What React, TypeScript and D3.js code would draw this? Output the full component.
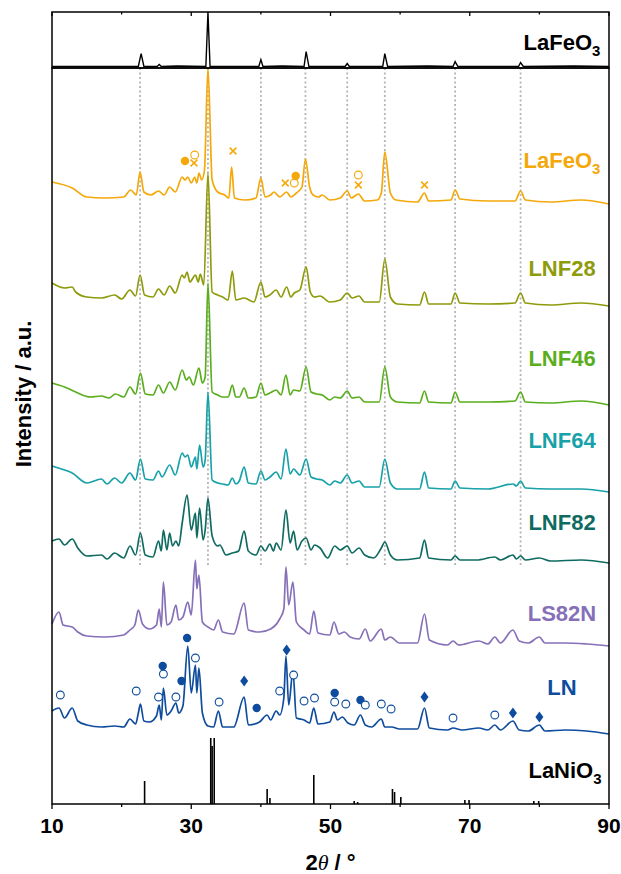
import React from 'react';
import * as d3 from 'd3';

// 2θ / intensity pairs (a.u., relative to each trace's own baseline)
const refLaFeO3: number[][] = [
  [10, 1], [16, 1], [20, 1], [22.4, 1], [22.8, 14], [23.2, 1], [25.1, 1], [25.4, 3], [25.7, 1],
  [28, 1.5], [32.1, 1], [32.4, 56], [32.7, 1], [36, 1], [39.7, 1], [40, 8], [40.3, 1],
  [43, 1.5], [46.2, 1], [46.5, 16], [46.9, 1], [52.1, 1], [52.4, 4], [52.7, 1], [57.5, 1],
  [57.8, 14], [58.2, 1], [64, 1.5], [67.6, 1], [67.9, 6], [68.3, 1], [72, 1], [77, 1],
  [77.3, 5], [77.7, 1], [85, 1.5], [90, 1],
];

const laFeO3: number[][] = [
  [10, 22], [12.9, 16], [15, 7], [17.6, 6], [20.3, 7], [21.3, 14], [22.1, 9], [22.65, 32],
  [23.2, 12], [24.2, 9], [25.3, 13], [26.1, 9], [26.9, 17], [27.7, 12], [28.7, 27], [29.1, 24],
  [29.5, 27], [30.0, 21], [30.5, 27], [30.8, 21], [31.1, 31], [31.5, 24], [31.9, 34], [32.4, 136],
  [33.0, 24], [33.8, 12], [34.8, 9], [35.4, 6], [35.8, 37], [36.2, 6], [37.7, 4], [39.3, 6],
  [40.0, 26], [40.6, 7], [41.4, 9], [41.9, 12], [42.7, 7], [43.7, 12], [44.3, 7], [45.1, 11],
  [45.9, 17], [46.4, 45], [47.0, 17], [47.5, 9], [48.3, 7], [48.8, 9], [49.9, 4], [51.4, 6],
  [52.4, 13], [53.0, 6], [54.0, 10], [54.9, 3], [56.7, 4], [57.3, 11], [57.8, 52], [58.6, 11],
  [59.4, 4], [62.5, 2], [63.5, 11], [64.1, 3], [67.3, 4], [67.9, 14], [68.6, 5], [72.6, 3],
  [76.5, 3], [77.3, 13], [78, 4], [81.6, 2], [86, 4], [90, 0],
];

const lnf28: number[][] = [
  [10, 23], [11.8, 18], [12.9, 19], [13.4, 14], [15, 9], [17.1, 8], [19, 11], [20, 7],
  [21.2, 16], [22, 10], [22.65, 31], [23.3, 11], [24.5, 9], [25.3, 17], [26.1, 11], [26.9, 20],
  [27.7, 13], [28.7, 31], [29, 28], [29.4, 34], [29.8, 24], [30.6, 31], [31, 24], [31.3, 32],
  [31.8, 21], [32.4, 133], [33, 14], [33.8, 11], [34.5, 9], [35.3, 6], [35.9, 35], [36.4, 6],
  [37.6, 8], [39, 4], [40, 24], [40.6, 9], [41.3, 11], [42.2, 16], [42.9, 9], [43.7, 19],
  [44.3, 9], [44.8, 13], [45.6, 16], [46.5, 39], [47.1, 14], [47.7, 9], [48.5, 10], [49.9, 4],
  [51.4, 6], [52.4, 13], [53.1, 8], [54.1, 10], [54.9, 4], [57, 4], [57.8, 47], [58.6, 9],
  [59.6, 2], [62.8, 1], [63.5, 14], [64.1, 2], [67.3, 2], [67.9, 13], [68.6, 3], [72.6, 2],
  [76.5, 3], [77.3, 13], [78, 3], [81.6, 1], [86, 3], [90, 0],
];

const lnf46: number[][] = [
  [10, 22], [11.8, 18], [13.4, 13], [15.5, 8], [17.1, 9], [18.2, 7], [19.1, 11], [20.3, 8],
  [21.2, 18], [22, 11], [22.7, 32], [23.4, 11], [24.5, 10], [25.3, 20], [26, 12], [26.9, 23],
  [27.7, 15], [28.7, 35], [29.3, 25], [29.7, 28], [30.3, 20], [31.1, 37], [31.6, 22], [32, 28],
  [32.4, 122], [33, 13], [33.8, 10], [34.5, 8], [35.3, 8], [35.9, 20], [36.4, 8], [36.9, 8],
  [37.6, 17], [38.2, 7], [39.3, 8], [40, 22], [40.6, 10], [41.3, 12], [42.2, 15], [42.9, 10],
  [43.6, 30], [44.2, 10], [44.7, 15], [45.6, 14], [46.5, 38], [47.2, 13], [48, 11], [48.8, 10],
  [49.9, 5], [50.6, 8], [51.4, 7], [52.4, 14], [53.1, 7], [54.1, 8], [54.9, 3], [57, 3],
  [57.8, 38], [58.6, 8], [59.6, 3], [62.8, 2], [63.5, 14], [64.1, 3], [67.3, 2], [67.9, 13],
  [68.6, 3], [72.6, 3], [76.5, 4], [77.3, 13], [78, 3], [81.6, 2], [86, 4], [90, 0],
];

const lnf64: number[][] = [
  [10, 26], [11.8, 22], [12.9, 19], [15, 9], [17.1, 13], [17.9, 8], [19, 14], [20, 9],
  [21.2, 19], [22, 12], [22.7, 33], [23.4, 13], [24.5, 12], [25.3, 21], [25.8, 15], [26.9, 27],
  [27.7, 17], [28.7, 39], [29.1, 35], [29.5, 37], [30.0, 25], [30.6, 35], [30.8, 23], [31.2, 47],
  [31.7, 25], [32, 32], [32.4, 100], [33, 12], [33.8, 9], [34.5, 8], [35.3, 7], [35.9, 14],
  [36.4, 8], [36.9, 11], [37.6, 25], [38.2, 9], [39.3, 8], [40, 21], [40.6, 12], [41.3, 15],
  [42.2, 20], [42.9, 13], [43.6, 43], [44.2, 18], [44.7, 23], [45.6, 17], [46.5, 33], [47.2, 15],
  [48, 13], [48.8, 12], [49.9, 7], [50.6, 11], [51.4, 9], [52.4, 17], [53.1, 9], [54.1, 11],
  [54.9, 5], [57, 5], [57.8, 33], [58.6, 9], [59.6, 3], [62.8, 3], [63.5, 20], [64.1, 4],
  [67.3, 3], [67.9, 11], [68.6, 4], [72.6, 3], [76.2, 8], [76.7, 6], [77.3, 11], [78, 4],
  [81.6, 3], [86, 3], [90, 0],
];

const lnf82: number[][] = [
  [10, 22], [11, 24], [11.8, 18], [12.9, 24], [13.7, 15], [15, 7], [17.1, 8], [17.9, 4],
  [19, 10], [20.3, 5], [21.2, 17], [22, 8], [22.7, 30], [23.4, 8], [24.5, 6], [25.3, 22],
  [25.7, 12], [26, 33], [26.5, 13], [26.9, 30], [27.3, 17], [27.8, 22], [28.2, 17], [28.7, 40],
  [29.4, 68], [30, 33], [30.6, 50], [30.8, 25], [31.2, 55], [31.7, 23], [32, 33], [32.4, 65],
  [33, 27], [33.8, 17], [34.1, 18], [35, 8], [35.9, 10], [36.8, 12], [37.6, 32], [38.2, 12],
  [39.3, 8], [40, 17], [40.6, 12], [41.3, 19], [41.8, 12], [42.2, 20], [42.9, 13], [43.6, 53],
  [44.2, 20], [44.7, 32], [45.2, 13], [45.9, 22], [46.5, 25], [47.2, 13], [47.7, 18], [48.5, 15],
  [49.6, 5], [50.6, 17], [51.4, 13], [52.4, 17], [53.1, 10], [54.1, 15], [54.9, 8], [56.2, 5],
  [57.3, 15], [57.8, 21], [58.6, 8], [59.6, 3], [62.8, 5], [63.5, 23], [64.1, 5], [67.3, 3],
  [67.9, 7], [68.6, 3], [71, 3], [73.6, 6], [74.4, 3], [76.2, 8], [76.7, 4], [77.3, 7],
  [78, 3], [80, 5], [81.6, 2], [86, 3], [90, 0],
];

const ls82n: number[][] = [
  [10, 22], [11, 34], [11.6, 21], [12.9, 19], [13.7, 14], [15, 10], [17.6, 9], [20.3, 11],
  [21.2, 16], [21.9, 21], [22.4, 36], [23, 22], [24, 17], [25, 21], [25.4, 37], [25.7, 19],
  [26, 64], [26.5, 21], [27.1, 24], [27.8, 41], [28.2, 26], [28.8, 29], [29.5, 44], [30, 31],
  [30.6, 86], [30.8, 57], [31.1, 71], [31.6, 24], [32.4, 19], [33.2, 16], [33.9, 26], [34.5, 14],
  [36.1, 12], [37.6, 43], [38.2, 16], [39.8, 14], [41.4, 17], [42.7, 27], [43.3, 37], [43.6, 79],
  [44, 41], [44.6, 64], [45.1, 24], [46.2, 16], [47, 12], [47.6, 35], [48.2, 13], [49.9, 11],
  [50.5, 24], [51.2, 12], [52, 14], [52.8, 9], [54.1, 7], [55, 17], [55.7, 5], [57.3, 17],
  [57.8, 6], [58.6, 9], [59.9, 3], [62.5, 3], [63.5, 32], [64.2, 6], [66.8, 1], [67.6, 5],
  [68.4, 1], [71.3, 5], [72.6, 2], [73.6, 9], [74.4, 3], [76.2, 16], [77.1, 5], [78.4, 3],
  [80, 9], [80.8, 3], [83.7, 3], [86.8, 2], [90, 0],
];

const ln: number[][] = [
  [10, 23], [11, 26], [11.8, 16], [12.9, 26], [13.7, 13], [15, 9], [17.1, 7], [19, 8],
  [20.3, 7], [21.2, 15], [22, 10], [22.4, 21], [22.7, 30], [23.2, 13], [24, 12], [25, 18],
  [25.4, 29], [25.7, 14], [26, 46], [26.5, 19], [27.1, 23], [27.8, 31], [28.2, 21], [28.8, 28],
  [29.5, 88], [30, 41], [30.6, 69], [30.8, 41], [31.1, 66], [31.6, 21], [32.4, 8], [33.2, 7],
  [33.9, 23], [34.5, 7], [36.1, 7], [37.6, 37], [38.2, 9], [39.8, 12], [40.9, 19], [41.4, 14],
  [42.2, 23], [42.7, 19], [43.3, 36], [43.6, 78], [44, 29], [44.6, 63], [45.1, 16], [46.2, 14],
  [47, 11], [47.6, 26], [48.2, 10], [49.9, 12], [50.5, 22], [51, 14], [51.7, 17], [52.5, 11],
  [53.4, 9], [54.3, 19], [55, 9], [55.9, 7], [57.3, 15], [57.8, 7], [58.8, 7], [59.9, 5],
  [62.5, 5], [63.5, 26], [64.2, 6], [66.8, 4], [67.6, 6], [68.9, 4], [71.3, 6], [72.6, 4],
  [73.6, 9], [74.4, 4], [76.2, 13], [77.1, 4], [78.4, 3], [80, 9], [80.8, 3], [83.7, 4],
  [86.8, 3], [90, 0],
];

// LaNiO3 reference sticks
const laNiO3Sticks: number[][] = [
  [23.3, 23], [32.8, 66], [33.0, 58], [33.3, 66], [40.9, 15], [41.3, 6], [47.6, 29],
  [53.4, 3], [53.9, 2], [58.9, 15], [59.2, 12], [60.1, 7], [69.3, 4], [69.9, 4],
  [79.2, 3], [79.9, 3],
];

// LaFeO3 reflections marked by dotted guide lines
const guideLines = [22.65, 32.4, 40.0, 46.4, 52.4, 57.8, 67.9, 77.3];

// phase markers: [2θ, height above trace baseline], kind
const laFeO3Markers: [number, number, string][] = [
  [29.1, 43, 'filled'], [30.5, 49, 'open'], [30.4, 41, 'cross'], [36.0, 53, 'cross'],
  [43.5, 21, 'cross'], [44.8, 21, 'open'], [45.0, 28, 'filled'], [54.0, 29, 'open'],
  [54.0, 19, 'cross'], [63.5, 19, 'cross'],
];

const lnMarkers: [number, number, string][] = [
  [11.2, 39, 'open'], [22.1, 43, 'open'], [25.3, 37, 'open'], [25.9, 68, 'filled'],
  [26.0, 60, 'open'], [27.8, 37, 'open'], [28.6, 53, 'filled'], [29.4, 96, 'filled'],
  [30.6, 76, 'open'], [34.0, 32, 'open'], [37.6, 53, 'diamond'], [39.4, 26, 'filled'],
  [42.7, 43, 'open'], [43.7, 84, 'diamond'], [44.7, 59, 'open'], [46.2, 33, 'open'],
  [47.7, 36, 'open'], [50.6, 41, 'filled'], [50.6, 32, 'open'], [52.2, 30, 'open'],
  [54.3, 34, 'filled'], [55.0, 29, 'open'], [57.3, 30, 'open'], [58.7, 25, 'open'],
  [63.5, 37, 'diamond'], [67.6, 16, 'open'], [73.6, 19, 'open'], [76.2, 21, 'diamond'],
  [80.0, 17, 'diamond'],
];

const names = ['LaFeO3', 'LNF28', 'LNF46', 'LNF64', 'LNF82', 'LS82N', 'LN'];
const seriesData = [laFeO3, lnf28, lnf46, lnf64, lnf82, ls82n, ln];
const colors = ['#F5A80A', '#8E9B0B', '#5AAE1E', '#17A1A8', '#0F6B61', '#8670B8', '#0F4C9E'];
const offsets = [600, 498, 399, 312, 241, 158, 70];
const labelLevels = [636, 528, 438, 356, 274, 183, 109];

const W = 621;
const H = 874;
const left = 52;
const right = 609;
const topY = 12;
const splitY = 68;
const bottomY = 804;

const font = '"Liberation Sans", Arial, sans-serif';

function Label({ x, y, name, color, size = 22 }: { x: number; y: number; name: string; color: string; size?: number }) {
  const m = name.match(/^(.*?)(\d)$/);
  const isFormula = name.startsWith('La');
  return (
    <text x={x} y={y} fill={color} fontFamily={font} fontWeight="bold" fontSize={size} textAnchor="middle">
      {isFormula && m ? (
        <>
          {m[1]}
          <tspan fontSize={size * 0.68} dy={6}>{m[2]}</tspan>
        </>
      ) : name}
    </text>
  );
}

function Marker({ cx, cy, kind, color }: { cx: number; cy: number; kind: string; color: string }) {
  if (kind === 'filled') return <circle cx={cx} cy={cy} r={4.2} fill={color} />;
  if (kind === 'open') return <circle cx={cx} cy={cy} r={3.9} fill="white" stroke={color} strokeWidth={1.1} />;
  if (kind === 'diamond')
    return <path d={`M${cx},${cy - 5.5} L${cx + 4},${cy} L${cx},${cy + 5.5} L${cx - 4},${cy} Z`} fill={color} />;
  return (
    <path d={`M${cx - 3.4},${cy - 3.4} L${cx + 3.4},${cy + 3.4} M${cx + 3.4},${cy - 3.4} L${cx - 3.4},${cy + 3.4}`}
      stroke={color} strokeWidth={1.5} />
  );
}

export default function App() {
  const x = d3.scaleLinear().domain([10, 90]).range([left, right]);
  const y = d3.scaleLinear().domain([0, bottomY - splitY]).range([bottomY, splitY]);
  const yTop = d3.scaleLinear().domain([0, splitY - topY]).range([splitY - 0.5, topY]);

  const line = (off: number) =>
    d3.line<number[]>().curve(d3.curveMonotoneX).x((d) => x(d[0])).y((d) => y(d[1] + off));
  const topLine = d3.line<number[]>().x((d) => x(d[0])).y((d) => yTop(d[1]));

  const majorTicks = [10, 30, 50, 70, 90];
  const minorTicks = [20, 40, 60, 80];
  const guideBottom = y(offsets[4] - 2);

  return (
    <svg width={W} height={H} style={{ position: 'absolute', left: 0, top: 0, background: 'white' }}>
      {/* guide lines */}
      {guideLines.map((g) => (
        <line key={g} x1={x(g)} x2={x(g)} y1={splitY} y2={guideBottom}
          stroke="#b4b4b4" strokeWidth={1.8} strokeDasharray="2,2.5" />
      ))}

      {/* top reference panel */}
      <path d={topLine(refLaFeO3) || ''} fill="none" stroke="#000" strokeWidth={1.4} />
      <Label x={562} y={50} name="LaFeO3" color="#000" />

      {/* sample traces */}
      {seriesData.map((s, i) => (
        <path key={names[i]} d={line(offsets[i])(s) || ''} fill="none" stroke={colors[i]} strokeWidth={1.7}
          strokeLinejoin="round" />
      ))}

      {/* LaNiO3 sticks */}
      {laNiO3Sticks.map((d, i) => (
        <line key={i} x1={x(d[0])} x2={x(d[0])} y1={y(0)} y2={y(d[1])} stroke="#000" strokeWidth={1.6} />
      ))}

      {/* markers */}
      {laFeO3Markers.map((m, i) => (
        <Marker key={'f' + i} cx={x(m[0])} cy={y(offsets[0] + m[1])} kind={m[2]} color={colors[0]} />
      ))}
      {lnMarkers.map((m, i) => (
        <Marker key={'n' + i} cx={x(m[0])} cy={y(offsets[6] + m[1])} kind={m[2]} color={colors[6]} />
      ))}

      {/* labels */}
      {names.map((n, i) => (
        <Label key={n} x={562} y={y(labelLevels[i])} name={n} color={colors[i]} />
      ))}
      <Label x={565} y={y(26)} name="LaNiO3" color="#000" />

      {/* frames */}
      <rect x={left} y={topY} width={right - left} height={splitY - topY} fill="none" stroke="#000" strokeWidth={1.5} />
      <rect x={left} y={splitY} width={right - left} height={bottomY - splitY} fill="none" stroke="#000" strokeWidth={1.5} />

      {/* top panel ticks */}
      {majorTicks.concat(minorTicks).map((t) => (
        <line key={'tt' + t} x1={x(t)} x2={x(t)} y1={topY} y2={topY + (majorTicks.includes(t) ? 4 : 2.5)}
          stroke="#000" strokeWidth={1.3} />
      ))}

      {/* bottom axis */}
      {majorTicks.concat(minorTicks).map((t) => (
        <line key={'bt' + t} x1={x(t)} x2={x(t)} y1={bottomY} y2={bottomY + (majorTicks.includes(t) ? 5 : 3)}
          stroke="#000" strokeWidth={1.3} />
      ))}
      {majorTicks.map((t) => (
        <text key={'bl' + t} x={x(t)} y={833} textAnchor="middle" fontFamily={font} fontWeight="bold" fontSize={21}>
          {t}
        </text>
      ))}
      <text x={(left + right) / 2} y={870} textAnchor="middle" fontFamily={font} fontWeight="bold" fontSize={22}>
        2<tspan fontFamily='"Liberation Serif", serif' fontStyle="italic" fontWeight="normal">θ</tspan> / °
      </text>
      <text transform={`translate(31,${(splitY + bottomY) / 2 - 42}) rotate(-90)`} textAnchor="middle"
        fontFamily={font} fontWeight="bold" fontSize={22}>
        Intensity / a.u.
      </text>
    </svg>
  );
}
